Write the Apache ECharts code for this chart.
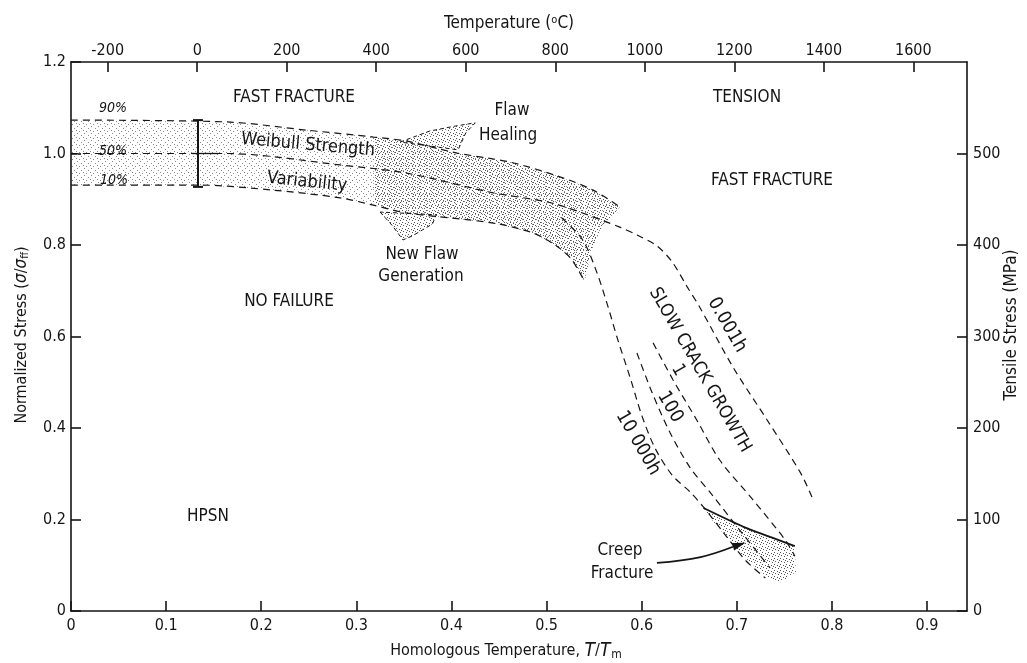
<!DOCTYPE html>
<html><head><meta charset="utf-8">
<script src="https://cdn.jsdelivr.net/npm/echarts@6/dist/echarts.min.js"></script>
<style>html,body{margin:0;padding:0;background:#fff}#c{width:1027px;height:663px}</style>
</head><body><div id="c"></div>
<script>
// ---------- tick labels ----------
const homologousTicks = [0, 0.1, 0.2, 0.3, 0.4, 0.5, 0.6, 0.7, 0.8, 0.9];
const temperatureTicks = [-200, 0, 200, 400, 600, 800, 1000, 1200, 1400, 1600];
const stressTicks = [0, 0.2, 0.4, 0.6, 0.8, 1.0, 1.2];
const mpaTicks = [0, 100, 200, 300, 400, 500];

// ---------- curves (x = T/Tm, y = sigma/sigma_ff) ----------
const line90 = [[0,1.073],[0.164,1.069],[0.248,1.051],[0.318,1.036],[0.353,1.027],[0.406,1.001],[0.462,0.981],[0.514,0.949],[0.549,0.920],[0.577,0.883]];
const line50 = [[0,1.0],[0.164,1.0],[0.283,0.975],[0.353,0.957],[0.444,0.914],[0.501,0.894],[0.535,0.872]];
const line0001h = [[0.577,0.839],[0.595,0.822],[0.616,0.798],[0.632,0.763],[0.648,0.708],[0.661,0.664],[0.696,0.533],[0.732,0.417],[0.767,0.302],[0.779,0.249]];
const line10 = [[0,0.931],[0.136,0.931],[0.212,0.920],[0.283,0.903],[0.318,0.887],[0.353,0.870],[0.444,0.848],[0.486,0.826],[0.509,0.800],[0.525,0.772],[0.535,0.739],[0.540,0.720]];
const bandRightEdge = [[0.556,0.833],[0.546,0.778]];
const line10000h = [[0.516,0.859],[0.538,0.811],[0.553,0.739],[0.564,0.669],[0.575,0.592],[0.588,0.509],[0.600,0.428],[0.614,0.356],[0.632,0.297],[0.651,0.260],[0.665,0.227],[0.688,0.166],[0.709,0.111],[0.730,0.072]];
const line100 = [[0.595,0.564],[0.611,0.477],[0.630,0.389],[0.651,0.313],[0.674,0.254],[0.703,0.177],[0.735,0.094]];
const line1 = [[0.612,0.586],[0.633,0.505],[0.658,0.417],[0.682,0.330],[0.717,0.243],[0.751,0.155],[0.761,0.120]];
const creepLine = [[0.665,0.225],[0.707,0.184],[0.735,0.162],[0.761,0.142]];
const creepRegion = [[0.665,0.225],[0.707,0.184],[0.761,0.142],[0.762,0.085],[0.746,0.063],[0.733,0.072],[0.703,0.127],[0.674,0.199]];
const creepArrow = [[0.616,0.105],[0.662,0.118],[0.709,0.149]];
const flawHealing = [[0.346,1.025],[0.377,1.049],[0.404,1.060],[0.425,1.067],[0.415,1.045],[0.407,1.008]];
const newFlaw = [[0.325,0.872],[0.338,0.842],[0.349,0.811],[0.359,0.820],[0.380,0.846],[0.384,0.866]];
const errorBar = [0.1335, 0.927, 1.0, 1.073]; // x, 10%, 50%, 90%

// ---------- styling ----------
const FONT = "'Liberation Sans Narrow','DejaVu Sans Condensed',sans-serif";
const INK = '#151515';

function makePattern(size, dots, color) {
  const c = document.createElement('canvas'); c.width = size; c.height = size;
  const ctx = c.getContext('2d'); ctx.fillStyle = color;
  dots.forEach(d => ctx.fillRect(d[0], d[1], 1, 1));
  return { image: c, repeat: 'repeat' };
}
const lightDots = makePattern(7, [[0,0],[4,2],[2,5],[6,4]], '#8a8a8a');
const denseDots = makePattern(6, [[0,0],[3,1],[1,3],[4,4],[5,2]], '#555');

function polygonSeries(points, fill, dashed, z) {
  return {
    type: 'custom', coordinateSystem: 'cartesian2d', xAxisIndex: 0, yAxisIndex: 0, silent: true, z: z || 1,
    data: [points[0]],
    renderItem: function (params, api) {
      return { type: 'polygon', shape: { points: points.map(p => api.coord(p)) },
        style: { fill: fill, stroke: dashed ? INK : null, lineWidth: 1, lineDash: dashed ? [4, 3] : null } };
    }
  };
}
function dashSeries(points) {
  return { type: 'line', xAxisIndex: 0, yAxisIndex: 0, data: points, symbol: 'none', showSymbol: false,
    smooth: 0.3, silent: true, z: 4, lineStyle: { color: INK, width: 1.2, type: [7, 5] } };
}

const bandPoly = line90.concat(bandRightEdge, line10.slice().reverse());
const densePoly = line90.slice(3).concat(bandRightEdge, line10.slice(4).reverse());

const axisLine = { show: true, onZero: false, lineStyle: { color: INK, width: 1.6 } };
const tick = { show: true, inside: true, length: 10, lineStyle: { color: INK, width: 1.6 } };
const lab = { color: INK, fontSize: 16, fontFamily: FONT };

const chart = echarts.init(document.getElementById('c'));

function txt(text, x, y, o) {
  o = o || {};
  return { type: 'text', x: x, y: y, rotation: (o.rot || 0) * Math.PI / 180, silent: true, z: 20,
    style: { text: text, fill: INK, fontSize: o.size || 16, fontFamily: FONT, fontStyle: o.italic ? 'italic' : 'normal',
      align: 'center', verticalAlign: 'middle', rich: o.rich } };
}

const option = {
  backgroundColor: '#fff',
  animation: false,
  grid: { left: 71, right: 60, top: 62, bottom: 52 },
  xAxis: [
    { type: 'value', position: 'bottom', min: 0, max: 0.942, axisLine: axisLine,
      axisTick: Object.assign({}, tick, { customValues: homologousTicks }),
      axisLabel: Object.assign({}, lab, { customValues: homologousTicks, margin: 7, formatter: v => v === 0 ? '0' : v.toFixed(1) }),
      splitLine: { show: false } },
    { type: 'value', position: 'top', min: -282, max: 1720, axisLine: axisLine,
      axisTick: Object.assign({}, tick, { customValues: temperatureTicks }),
      axisLabel: Object.assign({}, lab, { customValues: temperatureTicks, margin: 3, formatter: v => String(v) }),
      splitLine: { show: false } }
  ],
  yAxis: [
    { type: 'value', position: 'left', min: 0, max: 1.2, interval: 0.2, axisLine: axisLine, axisTick: tick,
      axisLabel: Object.assign({}, lab, { margin: 5, formatter: v => v === 0 ? '0' : v.toFixed(1) }),
      splitLine: { show: false } },
    { type: 'value', position: 'right', min: 0, max: 600, interval: 100, axisLine: axisLine,
      axisTick: Object.assign({}, tick, { customValues: mpaTicks }),
      axisLabel: Object.assign({}, lab, { margin: 6, customValues: mpaTicks, formatter: v => String(v) }),
      splitLine: { show: false } }
  ],
  series: [
    polygonSeries(bandPoly, lightDots, false, 1),
    polygonSeries(densePoly, denseDots, false, 2),
    polygonSeries(flawHealing, denseDots, true, 2),
    polygonSeries(newFlaw, denseDots, true, 2),
    polygonSeries(creepRegion, denseDots, false, 2),
    dashSeries(line90),
    dashSeries(line50.concat(line0001h)),
    dashSeries(line10),
    dashSeries(line10000h),
    dashSeries(line100),
    dashSeries(line1),
    { type: 'line', data: creepLine, symbol: 'none', smooth: 0.3, silent: true, z: 6, lineStyle: { color: INK, width: 1.8 } },
    { type: 'custom', coordinateSystem: 'cartesian2d', silent: true, z: 7, data: [creepArrow[0]],
      renderItem: function (params, api) {
        const pts = creepArrow.map(p => api.coord(p));
        const a = pts[pts.length - 2], b = pts[pts.length - 1];
        const ang = Math.atan2(b[1] - a[1], b[0] - a[0]);
        const L = 13, W = 4;
        const base = [b[0] - L * Math.cos(ang), b[1] - L * Math.sin(ang)];
        const p1 = [base[0] + W * Math.sin(ang), base[1] - W * Math.cos(ang)];
        const p2 = [base[0] - W * Math.sin(ang), base[1] + W * Math.cos(ang)];
        return { type: 'group', children: [
          { type: 'polyline', shape: { points: pts.slice(0, -1).concat([base]), smooth: 0.4 }, style: { stroke: INK, lineWidth: 1.8, fill: null } },
          { type: 'polygon', shape: { points: [b, p1, p2] }, style: { fill: INK } }
        ] };
      } },
    { type: 'custom', coordinateSystem: 'cartesian2d', silent: true, z: 7, data: [[errorBar[0], errorBar[2]]],
      renderItem: function (params, api) {
        const t = api.coord([errorBar[0], errorBar[3]]), m = api.coord([errorBar[0], errorBar[2]]), b = api.coord([errorBar[0], errorBar[1]]);
        const s = { stroke: INK, lineWidth: 2 };
        return { type: 'group', children: [
          { type: 'line', shape: { x1: t[0], y1: t[1], x2: b[0], y2: b[1] }, style: s },
          { type: 'line', shape: { x1: t[0] - 5, y1: t[1], x2: t[0] + 5, y2: t[1] }, style: s },
          { type: 'line', shape: { x1: b[0] - 5, y1: b[1], x2: b[0] + 5, y2: b[1] }, style: s },
          { type: 'line', shape: { x1: m[0] - 6, y1: m[1], x2: m[0] + 20, y2: m[1] }, style: { stroke: INK, lineWidth: 1.3 } }
        ] };
      } }
  ],
  graphic: [
    txt('Temperature ({sup|o}C)', 509, 24, { size: 17, rich: { sup: { fontSize: 11, fontFamily: FONT, padding: [0, 0, 7, 0] } } }),
    txt('Homologous Temperature, {i|T}/{i|T}{s|m}', 506, 651, { rich: {
      i: { fontSize: 19, fontStyle: 'italic', fontFamily: FONT },
      s: { fontSize: 12, fontFamily: FONT, padding: [8, 0, 0, 1] } } }),
    txt('Normalized Stress ({i|σ}/{i|σ}{s|ff})', 22, 335, { rot: 90, rich: {
      i: { fontSize: 17, fontStyle: 'italic', fontFamily: FONT },
      s: { fontSize: 11, fontFamily: FONT, padding: [7, 0, 0, 0] } } }),
    txt('Tensile Stress (MPa)', 1012, 325, { rot: 90, size: 17 }),
    txt('FAST FRACTURE', 294, 98, { size: 17 }),
    txt('TENSION', 747, 98, { size: 17 }),
    txt('FAST FRACTURE', 772, 181, { size: 17 }),
    txt('90%', 113, 108, { size: 14, italic: true }),
    txt('50%', 113, 151, { size: 14, italic: true }),
    txt('10%', 114, 180, { size: 14, italic: true }),
    txt('Weibull Strength', 308, 145, { size: 18, rot: -5 }),
    txt('Variability', 307, 182, { size: 18, rot: -6 }),
    txt('New Flaw', 422, 255, { size: 17 }),
    txt('Generation', 421, 277, { size: 17 }),
    txt('Flaw', 512, 111, { size: 17 }),
    txt('Healing', 508, 136, { size: 17 }),
    txt('NO FAILURE', 289, 302, { size: 17 }),
    txt('HPSN', 208, 517, { size: 17 }),
    txt('SLOW CRACK GROWTH', 700, 370, { size: 18, rot: -60 }),
    txt('0.001h', 727, 325, { size: 19, rot: -60 }),
    txt('1', 678, 370, { size: 18, rot: -60 }),
    txt('100', 670, 407, { size: 19, rot: -60 }),
    txt('10 000h', 638, 443, { size: 19, rot: -60 }),
    txt('Creep', 620, 551, { size: 17 }),
    txt('Fracture', 622, 574, { size: 17 })
  ]
};
chart.setOption(option);
</script>
</body></html>
